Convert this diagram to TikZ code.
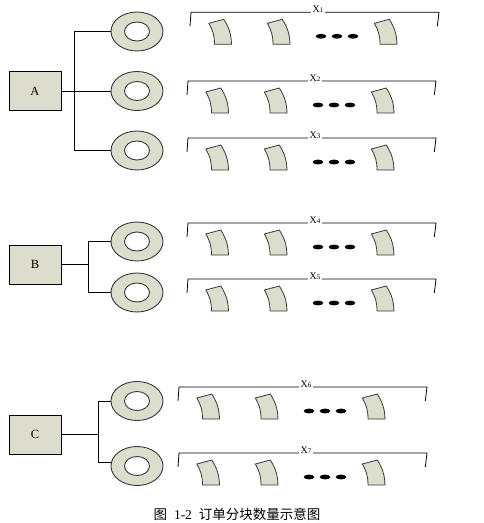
\documentclass[tikz,border=0pt]{standalone}
\usepackage{fontspec}
\setmainfont{Liberation Serif}
\newfontfamily\cjk{Noto Sans CJK SC}
\usetikzlibrary{shapes.geometric,calc}
\definecolor{olv}{RGB}{220,221,204}
\definecolor{edgec}{RGB}{55,55,55}
\tikzset{
  blkline/.style={draw=edgec, fill=olv, line width=0.8pt, line join=round},
  blk/.pic={\draw[blkline] (-5.7pt,21pt) to[bend left=15] (0pt,0pt) -- (17pt,0pt) to[bend right=15] (9.3pt,25pt) -- cycle;},
  donut/.style={ellipse, draw=edgec, fill=olv, line width=0.9pt, minimum width=52pt, minimum height=39pt, inner sep=0pt},
  hole/.style={ellipse, draw=edgec, fill=white, line width=0.9pt, minimum width=25pt, minimum height=19pt, inner sep=0pt},
  box/.style={draw=black, fill=olv, line width=0.8pt, minimum width=52pt, minimum height=39pt, inner sep=0pt, font=\fontsize{12.5}{12.5}\selectfont},
  wire/.style={line width=0.8pt, draw=black},
  br/.style={line width=0.8pt, draw=black},
  xlab/.style={inner sep=1.5pt, anchor=base, font=\fontsize{10}{10}\selectfont},
  dotm/.style={fill=black}
}
\newcommand\bkrow[4]{%
  \coordinate (#1l) at (#2,#3);
  \coordinate (#1r) at ({#2+248},#3);
  \node[xlab] (#1x) at ({#2+127},#3) {X{\fontsize{7}{7}\selectfont #4}};
  \draw[br] ($(#1l)+(-1,14)$) -- (#1l) -- (#1x.west |- #1l);
  \draw[br] (#1x.east |- #1l) -- (#1r) -- ($(#1r)+(-1.7,14)$);
  \pic at ({#2+23.5},{#3+32}) {blk};
  \pic at ({#2+82},{#3+32}) {blk};
  \pic at ({#2+189},{#3+32}) {blk};
  \fill[dotm] ({#2+130},{#3+24}) ellipse[x radius=5.3pt, y radius=2.4pt];
  \fill[dotm] ({#2+146},{#3+24}) ellipse[x radius=5.3pt, y radius=2.4pt];
  \fill[dotm] ({#2+162},{#3+24}) ellipse[x radius=5.3pt, y radius=2.4pt];
}
\begin{document}
\begin{tikzpicture}[x=1pt,y=-1pt]
\useasboundingbox (0,0) rectangle (484,523);

% group A
\node[box] (A) at (35,91) {A};
\node[donut] (dA1) at (137,31.5) {};
\node[hole] (hA1) at (dA1) {};
\node[donut] (dA2) at (137,91) {};
\node[hole] (hA2) at (dA2) {};
\node[donut] (dA3) at (137,150.5) {};
\node[hole] (hA3) at (dA3) {};
\coordinate (tA) at (74,91);
\draw[wire] (A.east) -- (A.east -| dA2.west);
\draw[wire] (dA1.west) -- (dA1.west -| tA) -- (dA3.west -| tA) -- (dA3.west);

% group B
\node[box] (B) at (35,264.5) {B};
\node[donut] (dB1) at (137,241.5) {};
\node[hole] (hB1) at (dB1) {};
\node[donut] (dB2) at (137,292.5) {};
\node[hole] (hB2) at (dB2) {};
\coordinate (tB) at (88,264.5);
\draw[wire] (B.east) -- (B.east -| tB);
\draw[wire] (dB1.west) -- (dB1.west -| tB) -- (dB2.west -| tB) -- (dB2.west);

% group C
\node[box] (C) at (35,434.5) {C};
\node[donut] (dC1) at (137,401) {};
\node[hole] (hC1) at (dC1) {};
\node[donut] (dC2) at (137,466) {};
\node[hole] (hC2) at (dC2) {};
\coordinate (tC) at (98,434.5);
\coordinate (eC2) at ($(dC2.west)+(0.6,-4)$);
\draw[wire] (C.east) -- (C.east -| tC);
\draw[wire] (dC1.west) -- (dC1.west -| tC) -- (eC2 -| tC) -- (eC2);

% brackets and blocks
\bkrow{ra}{191}{12.3}{1}
\bkrow{rb}{188}{81}{2}
\bkrow{rc}{188}{138}{3}
\bkrow{rd}{188}{223}{4}
\bkrow{re}{188}{279}{5}
\bkrow{rf}{179}{387}{6}
\bkrow{rg}{179}{453}{7}

% caption
\node[font=\fontsize{13.5}{13.5}\selectfont] (cap) at (237,514) {{\cjk 图}\hspace{7pt}1-2\hspace{7pt}{\cjk 订单分块数量示意图}};
\end{tikzpicture}
\end{document}
